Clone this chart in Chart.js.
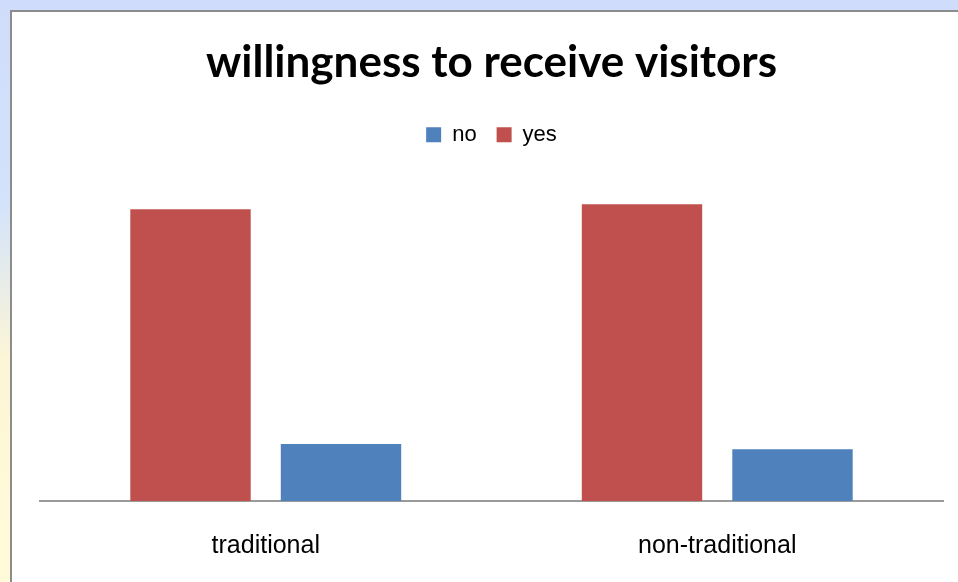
<!DOCTYPE html>
<html>
<head>
<meta charset="utf-8">
<title>willingness to receive visitors</title>
<script src="https://cdn.jsdelivr.net/npm/chart.js@4.4.0/dist/chart.umd.min.js"></script>
<style>
  html, body { margin: 0; padding: 0; }
  body {
    width: 958px;
    height: 582px;
    overflow: hidden;
    position: relative;
    background: linear-gradient(to bottom, #cfdcfb 0%, #d3e3fb 35%, #fdf6d6 62%, #fffbd9 100%);
  }
  #panel {
    position: absolute;
    left: 10px;
    top: 10px;
    width: 960px;
    height: 580px;
    background: #fff;
    border-left: 2px solid #8c8c8c;
    border-top: 2px solid #8c8c8c;
  }
  #visitorsChart { position: absolute; left: 0; top: 0; }
</style>
</head>
<body>
<div id="panel"></div>
<canvas id="visitorsChart" width="958" height="582"></canvas>

<script>
const groups = ["traditional", "non-traditional"];
const yesValues = [84.5, 86];
const noValues = [16.5, 15];

Chart.defaults.color = "#000";
Chart.defaults.font.family = "'Liberation Sans', Arial, sans-serif";

const ctx = document.getElementById("visitorsChart").getContext("2d");

new Chart(ctx, {
  type: "bar",
  data: {
    labels: groups,
    datasets: [
      {
        label: "yes",
        data: yesValues,
        backgroundColor: "#c0504d",
        categoryPercentage: 2 / 3,
        barPercentage: 0.8
      },
      {
        label: "no",
        data: noValues,
        backgroundColor: "#4f81bd",
        categoryPercentage: 2 / 3,
        barPercentage: 0.8
      }
    ]
  },
  options: {
    responsive: false,
    animation: false,
    layout: {
      padding: { left: 40, right: 15, top: 0, bottom: -9 }
    },
    plugins: {
      title: {
        display: true,
        text: "willingness to receive visitors",
        font: { family: "Lato, 'Open Sans', sans-serif", size: 44, weight: "bold" },
        padding: { top: 36, bottom: 15 }
      },
      legend: {
        reverse: true,
        labels: {
          boxWidth: 15,
          boxHeight: 15,
          padding: 20,
          font: { size: 22 }
        }
      },
      tooltip: { enabled: false }
    },
    scales: {
      x: {
        grid: { display: false, drawTicks: false },
        border: { display: true, color: "#9a9a9a", width: 2 },
        ticks: { padding: 30, font: { size: 25 } }
      },
      y: {
        display: false,
        min: 0,
        max: 100
      }
    }
  }
});
</script>
</body>
</html>
